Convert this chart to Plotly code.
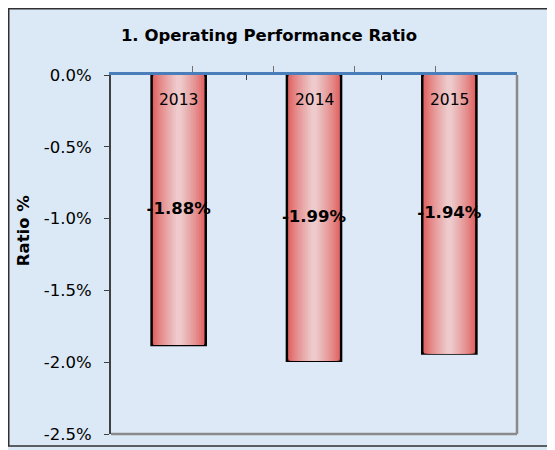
import plotly.graph_objects as go

categories = ["2013", "2014", "2015"]
values = [-1.88, -1.99, -1.94]
value_labels = ["-1.88%", "-1.99%", "-1.94%"]
y_ticks = [0.0, -0.5, -1.0, -1.5, -2.0, -2.5]
y_tick_labels = ["0.0%", "-0.5%", "-1.0%", "-1.5%", "-2.0%", "-2.5%"]

FONT = "DejaVu Sans"
x_pos = list(range(len(categories)))

W, H = 547, 442
L, R, T, B = 103, 38, 67, 16
PW, PH = W - L - R, H - T - B

fig = go.Figure()

# simulated horizontal gradient via overlaid bars of decreasing width
edge = (223, 92, 90)
center = (238, 202, 204)
n = 16
full_w = 0.40
for i in range(n):
    t = i / (n - 1)
    w = full_w * (1 - t * 0.9)
    c = tuple(int(edge[k] + (center[k] - edge[k]) * (t ** 0.8)) for k in range(3))
    fig.add_trace(go.Bar(
        x=x_pos, y=values, width=w,
        marker=dict(color="rgb(%d,%d,%d)" % c,
                    line=dict(color="black", width=2.5) if i == 0 else dict(width=0)),
        hoverinfo="skip", showlegend=False,
    ))

# value labels at bar centres
fig.add_trace(go.Scatter(
    x=x_pos, y=[v / 2 for v in values], mode="text", text=value_labels,
    textfont=dict(family=FONT, size=16.5, color="black", weight="bold"),
    showlegend=False, hoverinfo="skip",
))

for xi, cat in zip(x_pos, categories):
    fig.add_annotation(x=xi, y=0, text=cat, showarrow=False, yanchor="middle",
                       yshift=-25, font=dict(family=FONT, size=15.5, color="black"))

fig.add_annotation(xref="paper", yref="paper", x=(15 - L) / PW, y=0.565,
                   text="<b>Ratio %</b>", textangle=-90, showarrow=False,
                   xanchor="center", yanchor="middle",
                   font=dict(family=FONT, size=16.5, color="black"))

fig.update_layout(
    width=W, height=H,
    margin=dict(l=L, r=R, t=T, b=B, autoexpand=False),
    paper_bgcolor="#dbe8f6",
    plot_bgcolor="#dde9f7",
    barmode="overlay",
    title=dict(text="<b>1. Operating Performance Ratio</b>", x=261 / W, xanchor="center",
               y=1 - 27 / H, yanchor="middle",
               font=dict(family=FONT, size=16.5, color="black")),
    xaxis=dict(range=[-0.5, 2.5], side="top", showticklabels=False,
               tickvals=[0.5, 1.5], ticks="inside", ticklen=5, tickcolor="#404040",
               minor=dict(ticks="outside", tick0=-0.5, dtick=0.6, ticklen=6,
                          tickcolor="#707070", showgrid=False),
               showline=True, linecolor="#4a7ebb", linewidth=2.5,
               showgrid=False, zeroline=False),
    yaxis=dict(range=[-2.5, 0], tickvals=y_ticks, ticktext=y_tick_labels,
               ticks="outside", ticklen=5, tickcolor="#404040", ticklabelstandoff=9,
               showline=True, linecolor="#404040", linewidth=2, showgrid=False,
               zeroline=False, tickfont=dict(family=FONT, size=16.5, color="black")),
)

# plot area right and bottom border
fig.add_shape(type="line", xref="x domain", yref="y domain", x0=1, x1=1, y0=0, y1=1,
              line=dict(color="#8a8a8a", width=2.5))
fig.add_shape(type="line", xref="x domain", yref="y domain", x0=0, x1=1, y0=0, y1=0,
              line=dict(color="#8a8a8a", width=2.5))
# outer chart border
fig.add_shape(type="rect", xref="paper", yref="paper",
              x0=(0.75 - L) / PW, x1=(542 - L) / PW,
              y0=(H - B - 438) / PH, y1=(H - B - 0.75) / PH,
              line=dict(color="#303030", width=1.5))

fig.write_html("out.html")
